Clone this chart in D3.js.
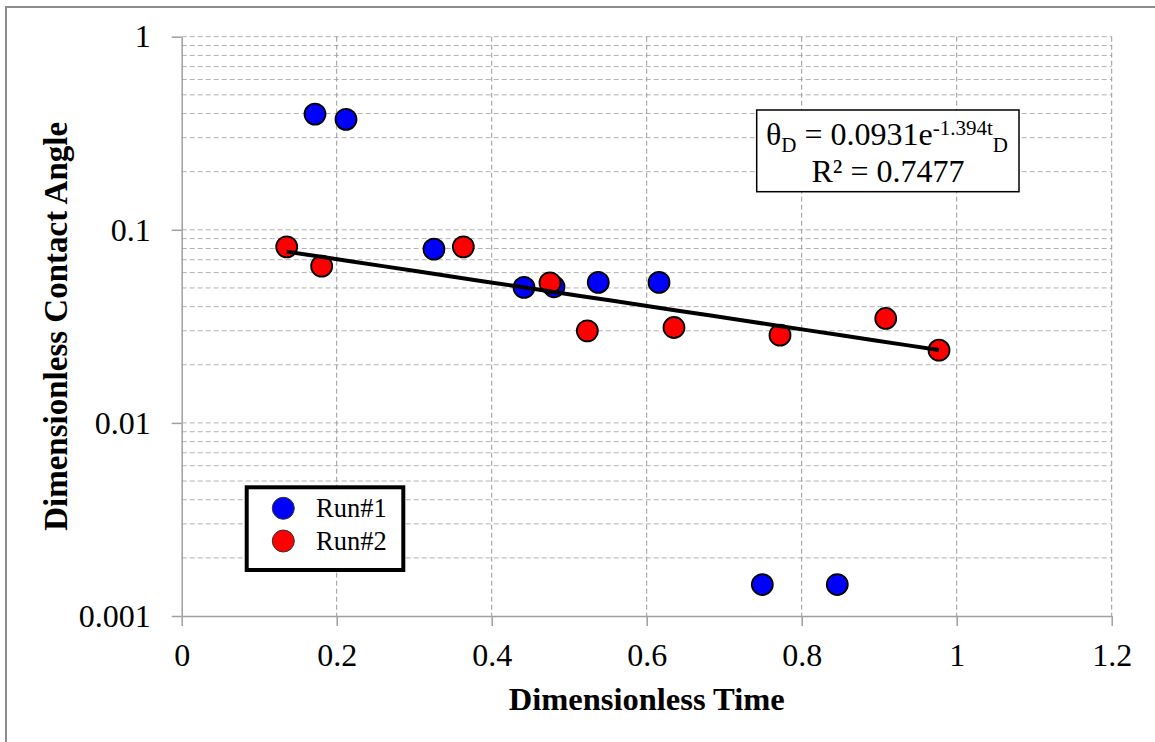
<!DOCTYPE html>
<html>
<head>
<meta charset="utf-8">
<script src="https://cdn.jsdelivr.net/npm/d3@7"></script>
<style>
  body { margin: 0; background: #fff; }
  svg { display: block; font-family: "Liberation Serif", "Times New Roman", serif; }
</style>
</head>
<body>
<svg id="chart" width="1155" height="742"></svg>
<script>
// data
const run1T = [0.172, 0.212, 0.3255, 0.4417, 0.4804, 0.5375, 0.6159, 0.7492, 0.8459];
const run1V = [0.3975, 0.3733, 0.0794, 0.0503, 0.0507, 0.0534, 0.0534, 0.001455, 0.001455];
const run2T = [0.1355, 0.1806, 0.3634, 0.4752, 0.5234, 0.6352, 0.772, 0.9084, 0.9772];
const run2V = [0.0816, 0.0648, 0.0816, 0.0531, 0.02997, 0.0312, 0.02848, 0.03475, 0.0238];

const xTicks = [0, 0.2, 0.4, 0.6, 0.8, 1, 1.2];
const yTicks = [0.001, 0.01, 0.1, 1];

// trend: theta = a * exp(b * t)
const fitA = 0.0931;
const fitB = -1.394;
const fitR2 = 0.7477;

const margin = { left: 181.7, top: 36.7, right: 1111.7, bottom: 616 };

const svg = d3.select('#chart');

// outer chart frame
svg.append('rect')
  .attr('x', 6).attr('y', 7)
  .attr('width', 1160).attr('height', 760)
  .style('fill', 'none')
  .style('stroke', '#8c8c8c')
  .style('stroke-width', 2);

const x = d3.scaleLinear().domain([0, 1.2]).range([margin.left, margin.right]);
const y = d3.scaleLog().domain([0.001, 1]).range([margin.bottom, margin.top]);

// grid lines
const gridY = [];
for (let e = -3; e < 0; e++) {
  for (let m = 1; m <= 9; m++) {
    const v = m * Math.pow(10, e);
    if (e === -3 && m === 1) continue;
    gridY.push(v);
  }
}
gridY.push(1);

const grid = svg.append('g').attr('class', 'grid');
grid.selectAll('line.h')
  .data(gridY)
  .enter().append('line')
  .attr('x1', margin.left).attr('x2', margin.right)
  .attr('y1', d => y(d)).attr('y2', d => y(d))
  .style('stroke', '#b3b3b3')
  .style('stroke-width', 1)
  .style('stroke-dasharray', '5,3');

grid.selectAll('line.v')
  .data(xTicks.slice(1))
  .enter().append('line')
  .attr('x1', d => x(d)).attr('x2', d => x(d))
  .attr('y1', margin.top).attr('y2', margin.bottom)
  .style('stroke', '#999')
  .style('stroke-width', 1)
  .style('stroke-dasharray', '5,3');

// axes
const xAxis = svg.append('g')
  .attr('transform', 'translate(0,' + margin.bottom + ')')
  .call(d3.axisBottom(x).tickValues(xTicks).tickFormat(d => String(d))
    .tickSize(10).tickSizeOuter(0).tickPadding(17));

const yAxis = svg.append('g')
  .attr('transform', 'translate(' + margin.left + ',0)')
  .call(d3.axisLeft(y).tickValues(yTicks).tickFormat(d => String(d))
    .tickSize(10).tickSizeOuter(0).tickPadding(21));

[xAxis, yAxis].forEach(a => {
  a.select('.domain').style('stroke', '#a0a0a0').style('stroke-width', 1.5);
  a.selectAll('.tick line').style('stroke', '#a0a0a0').style('stroke-width', 1.5);
  a.selectAll('.tick text')
    .style('font-family', '"Liberation Serif", "Times New Roman", serif')
    .style('font-size', '32px')
    .style('fill', '#000');
});

// points
const pts = svg.append('g').attr('class', 'points');
function drawRun(ts, vs, colour) {
  pts.selectAll(null)
    .data(ts.map((t, i) => ({ t: t, v: vs[i] })))
    .enter().append('circle')
    .attr('cx', d => x(d.t))
    .attr('cy', d => y(d.v))
    .attr('r', 10.5)
    .style('fill', colour)
    .style('stroke', '#000')
    .style('stroke-width', 1.8);
}
drawRun(run1T, run1V, '#0000ff');
drawRun(run2T, run2V, '#ff0000');

// exponential trend line over the range of the run#2 data
const tExt = d3.extent(run2T);
const trend = d3.range(0, 21).map(i => tExt[0] + (tExt[1] - tExt[0]) * i / 20);
const trendLine = d3.line()
  .x(d => x(d))
  .y(d => y(fitA * Math.exp(fitB * d)));
svg.append('path')
  .attr('d', trendLine(trend))
  .style('fill', 'none')
  .style('stroke', '#000')
  .style('stroke-width', 4);

// equation box
const eq = svg.append('g');
eq.append('rect')
  .attr('x', 756.7).attr('y', 110)
  .attr('width', 262.3).attr('height', 81.7)
  .style('fill', '#fff')
  .style('stroke', '#000')
  .style('stroke-width', 1.5);

const line1 = eq.append('text')
  .attr('x', 887).attr('y', 145)
  .attr('text-anchor', 'middle')
  .style('font-size', '32px');
line1.append('tspan').text('θ');
line1.append('tspan').attr('dy', 7).style('font-size', '21px').text('D');
line1.append('tspan').attr('dy', -7).text(' = ' + fitA + 'e');
line1.append('tspan').attr('dy', -10).style('font-size', '21px').text(fitB + 't');
line1.append('tspan').attr('dy', 17).style('font-size', '21px').text('D');

eq.append('text')
  .attr('x', 888).attr('y', 181.7)
  .attr('text-anchor', 'middle')
  .style('font-size', '32px')
  .text('R² = ' + fitR2);

// legend
const legend = svg.append('g');
legend.append('rect')
  .attr('x', 246.7).attr('y', 487.3)
  .attr('width', 156.6).attr('height', 82.7)
  .style('fill', '#fff')
  .style('stroke', '#000')
  .style('stroke-width', 4);

const legItems = [
  { name: 'Run#1', colour: '#0000ff' },
  { name: 'Run#2', colour: '#ff0000' }
];
legItems.forEach((d, i) => {
  const cy = 508.3 + i * 32.7;
  legend.append('circle')
    .attr('cx', 283.3).attr('cy', cy)
    .attr('r', 11)
    .style('fill', d.colour)
    .style('stroke', '#333')
    .style('stroke-width', 1);
  legend.append('text')
    .attr('x', 316).attr('y', cy + 9)
    .style('font-size', '26.5px')
    .text(d.name);
});

// axis titles
svg.append('text')
  .attr('x', (margin.left + margin.right) / 2)
  .attr('y', 710)
  .attr('text-anchor', 'middle')
  .style('font-size', '32.5px')
  .style('font-weight', 'bold')
  .text('Dimensionless Time');

svg.append('text')
  .attr('transform', 'translate(67,' + ((margin.top + margin.bottom) / 2) + ') rotate(-90)')
  .attr('text-anchor', 'middle')
  .style('font-size', '33px')
  .style('font-weight', 'bold')
  .text('Dimensionless Contact Angle');
</script>
</body>
</html>
